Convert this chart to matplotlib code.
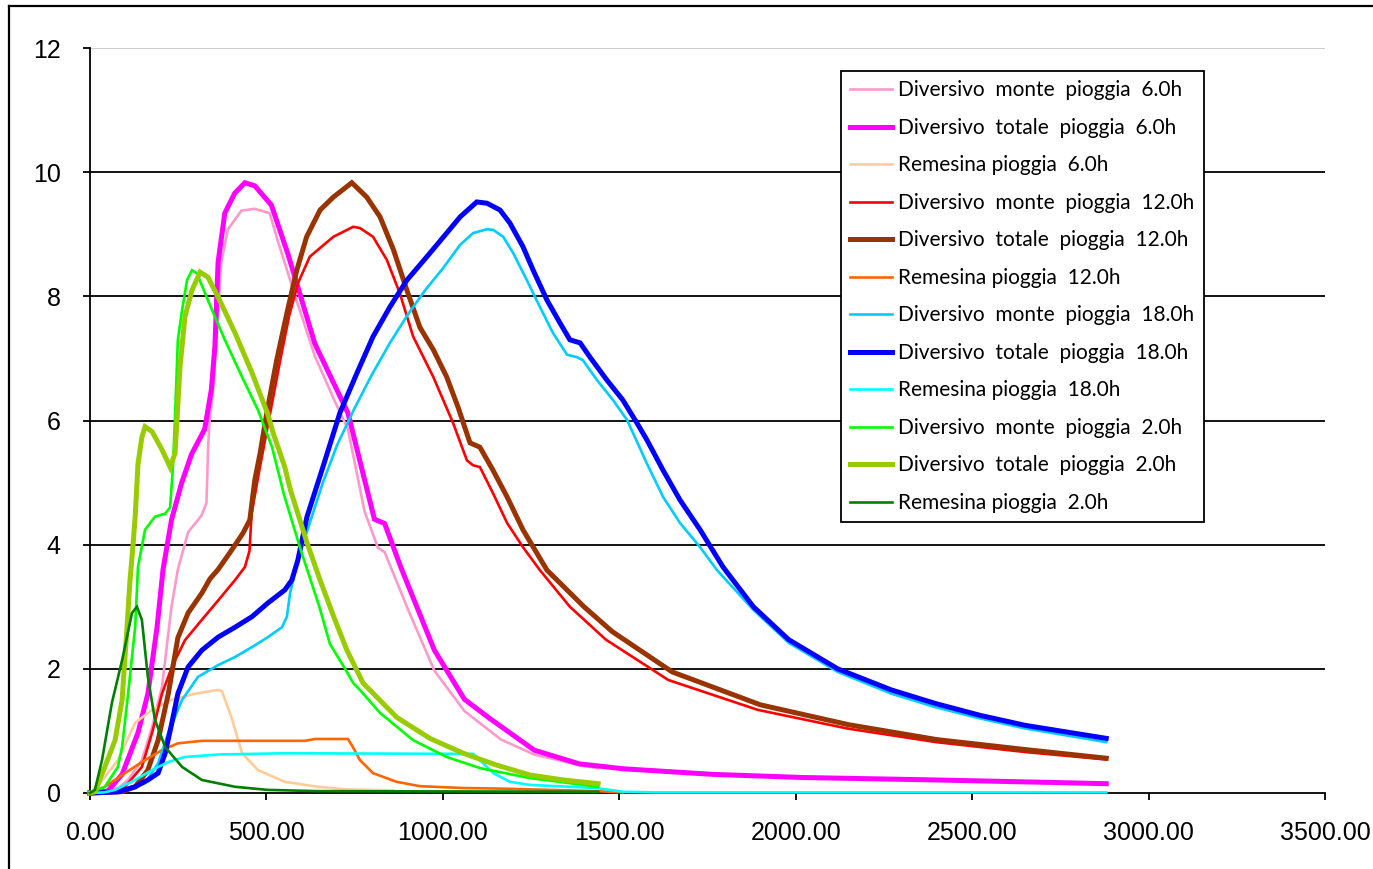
import matplotlib
matplotlib.use("Agg")
import matplotlib.pyplot as plt
from matplotlib.lines import Line2D
import numpy as np

# ---------------- data (time [min], discharge) ----------------
labels = ["Diversivo  monte  pioggia  6.0h", "Diversivo  totale  pioggia  6.0h", "Remesina pioggia  6.0h",
          "Diversivo  monte  pioggia  12.0h", "Diversivo  totale  pioggia  12.0h", "Remesina pioggia  12.0h",
          "Diversivo  monte  pioggia  18.0h", "Diversivo  totale  pioggia  18.0h", "Remesina pioggia  18.0h",
          "Diversivo  monte  pioggia  2.0h", "Diversivo  totale  pioggia  2.0h", "Remesina pioggia  2.0h"]

monte6_t = [0, 40, 80, 108, 147, 176, 204, 231, 249, 278, 316, 330, 335, 339, 349, 363, 372, 391, 429, 467,
            509, 533, 580, 637, 693, 731, 778, 816, 835, 901, 976, 1061, 1165, 1259, 1386, 1440]
monte6_q = [0, 0.02, 0.08, 0.21, 0.53, 1.06, 1.71, 3.0, 3.6, 4.2, 4.47, 4.67, 5.6, 6.0, 6.5, 7.7, 8.55, 9.08,
            9.38, 9.41, 9.34, 8.88, 8.03, 7.04, 6.32, 5.86, 4.54, 3.95, 3.88, 2.96, 1.97, 1.32, 0.86, 0.62,
            0.45, 0.40]

totale6_t = [0, 50, 91, 136, 164, 190, 207, 231, 260, 288, 325, 344, 354, 363, 382, 410, 439, 467, 514, 561,
             637, 731, 806, 835, 882, 976, 1061, 1133, 1259, 1386, 1512, 1765, 2018, 2397, 2726, 2880]
totale6_q = [0, 0.03, 0.3, 0.97, 1.6, 2.67, 3.6, 4.4, 5.0, 5.46, 5.86, 6.5, 7.2, 8.55, 9.34, 9.66, 9.83, 9.78,
             9.47, 8.68, 7.24, 6.12, 4.41, 4.34, 3.62, 2.30, 1.51, 1.20, 0.69, 0.47, 0.39, 0.30, 0.25, 0.21,
             0.17, 0.15]

rem6_t = [0, 14, 79, 128, 176, 232, 298, 363, 374, 403, 431, 476, 552, 646, 723, 860]
rem6_q = [0, 0.05, 0.53, 1.13, 1.34, 1.5, 1.6, 1.66, 1.64, 1.18, 0.64, 0.37, 0.18, 0.10, 0.06, 0.04]

monte12_t = [0, 60, 99, 147, 176, 204, 232, 269, 317, 363, 411, 439, 452, 458, 480, 510, 540, 565, 590, 623,
             690, 746, 765, 802, 841, 878, 916, 973, 1029, 1068, 1085, 1105, 1142, 1182, 1227, 1275, 1360,
             1462, 1639, 1892, 2145, 2397, 2650, 2880]
monte12_q = [0, 0.02, 0.1, 0.42, 0.97, 1.6, 2.03, 2.46, 2.79, 3.1, 3.43, 3.64, 3.9, 4.5, 5.2, 6.1, 7.0, 7.7,
             8.22, 8.64, 8.96, 9.12, 9.1, 8.96, 8.59, 8.05, 7.35, 6.7, 5.96, 5.36, 5.28, 5.25, 4.83, 4.35,
             3.96, 3.59, 3.0, 2.47, 1.82, 1.34, 1.04, 0.82, 0.66, 0.54]

totale12_t = [0, 90, 128, 164, 193, 222, 249, 278, 317, 340, 363, 400, 434, 453, 467, 482, 501, 529, 558, 586,
              614, 652, 690, 742, 784, 822, 860, 898, 935, 973, 1011, 1044, 1058, 1077, 1105, 1142, 1182,
              1227, 1295, 1400, 1480, 1650, 1900, 2150, 2400, 2650, 2880]
totale12_q = [0, 0.02, 0.1, 0.37, 0.85, 1.6, 2.5, 2.9, 3.22, 3.45, 3.6, 3.9, 4.19, 4.4, 5.04, 5.47, 6.12, 6.97,
              7.73, 8.42, 8.96, 9.39, 9.6, 9.83, 9.6, 9.28, 8.75, 8.1, 7.5, 7.14, 6.7, 6.2, 5.96, 5.64, 5.57,
              5.2, 4.77, 4.24, 3.59, 3.0, 2.6, 1.95, 1.42, 1.10, 0.86, 0.70, 0.56]

rem12_t = [0, 42, 99, 156, 204, 249, 317, 459, 609, 638, 731, 745, 765, 802, 869, 935, 1058, 1171, 1436, 1510]
rem12_q = [0, 0.1, 0.32, 0.53, 0.69, 0.8, 0.84, 0.84, 0.84, 0.87, 0.87, 0.74, 0.53, 0.32, 0.18, 0.11, 0.08,
           0.07, 0.03, 0.01]

monte18_t = [0, 99, 156, 193, 222, 261, 306, 363, 411, 459, 504, 544, 558, 567, 589, 620, 660, 700, 750, 800,
             850, 900, 950, 1000, 1049, 1086, 1125, 1143, 1171, 1199, 1238, 1275, 1312, 1352, 1380, 1397,
             1437, 1482, 1522, 1578, 1624, 1672, 1729, 1777, 1880, 1980, 2119, 2271, 2397, 2523, 2650, 2880]
monte18_q = [0, 0.05, 0.16, 0.48, 0.97, 1.5, 1.87, 2.06, 2.19, 2.35, 2.51, 2.67, 2.84, 3.22, 3.75, 4.3, 5.0,
             5.6, 6.2, 6.75, 7.25, 7.7, 8.1, 8.45, 8.83, 9.02, 9.08, 9.07, 8.96, 8.7, 8.26, 7.83, 7.41, 7.06,
             7.02, 6.97, 6.65, 6.33, 6.01, 5.31, 4.77, 4.35, 3.96, 3.59, 2.95, 2.42, 1.95, 1.6, 1.38, 1.2,
             1.04, 0.82]

totale18_t = [0, 79, 128, 164, 193, 213, 232, 249, 278, 317, 363, 411, 459, 504, 552, 572, 589, 615, 660, 708,
              757, 802, 850, 898, 955, 1011, 1049, 1096, 1125, 1162, 1190, 1227, 1256, 1295, 1332, 1360, 1389,
              1417, 1465, 1510, 1550, 1578, 1624, 1672, 1729, 1794, 1880, 1980, 2119, 2271, 2397, 2523, 2650,
              2880]
totale18_q = [0, 0.02, 0.1, 0.21, 0.32, 0.64, 1.13, 1.6, 2.03, 2.3, 2.51, 2.67, 2.84, 3.06, 3.27, 3.43, 3.75,
              4.45, 5.25, 6.12, 6.77, 7.35, 7.83, 8.26, 8.64, 9.02, 9.28, 9.52, 9.5, 9.39, 9.18, 8.8, 8.42,
              7.94, 7.57, 7.3, 7.25, 7.02, 6.65, 6.33, 5.96, 5.69, 5.2, 4.72, 4.24, 3.64, 3.0, 2.47, 2.0, 1.66,
              1.44, 1.25, 1.09, 0.88]

rem18_t = [0, 40, 71, 128, 176, 222, 269, 363, 552, 1086, 1105, 1143, 1190, 1247, 1436, 1510, 1600, 2880]
rem18_q = [0, 0.01, 0.05, 0.21, 0.37, 0.5, 0.58, 0.62, 0.64, 0.63, 0.53, 0.32, 0.18, 0.13, 0.08, 0.02, 0.01,
           0.01]

monte2_t = [0, 42, 79, 91, 108, 128, 136, 156, 184, 213, 227, 235, 241, 249, 261, 275, 289, 303, 334, 382, 431,
            476, 516, 550, 598, 650, 680, 723, 746, 765, 822, 916, 1011, 1106, 1247, 1440]
monte2_q = [0, 0.1, 0.42, 0.74, 1.6, 2.67, 3.64, 4.24, 4.45, 4.5, 4.6, 5.25, 6.06, 7.3, 7.78, 8.26, 8.42, 8.37,
            7.94, 7.3, 6.7, 6.17, 5.57, 4.8, 3.9, 3.0, 2.4, 2.0, 1.77, 1.66, 1.29, 0.85, 0.58, 0.40, 0.24, 0.10]

totale2_t = [0, 14, 42, 71, 91, 105, 113, 122, 128, 136, 147, 156, 176, 204, 227, 241, 247, 255, 269, 289, 312,
             334, 363, 411, 459, 504, 519, 552, 567, 615, 652, 690, 728, 774, 869, 963, 1058, 1152, 1247, 1341,
             1440]
totale2_q = [0, 0.02, 0.42, 0.85, 1.5, 2.67, 3.4, 4.0, 4.45, 5.3, 5.73, 5.9, 5.82, 5.53, 5.25, 5.47, 6.06, 6.86,
             7.67, 8.1, 8.39, 8.31, 7.99, 7.41, 6.77, 6.1, 5.8, 5.25, 4.9, 4.03, 3.43, 2.85, 2.3, 1.77, 1.22,
             0.88, 0.64, 0.45, 0.29, 0.21, 0.15]

rem2_t = [0, 14, 34, 62, 91, 119, 133, 147, 164, 184, 213, 261, 317, 411, 504, 646, 1440]
rem2_q = [0, 0.05, 0.53, 1.45, 2.14, 2.9, 3.0, 2.79, 1.87, 1.18, 0.74, 0.42, 0.21, 0.10, 0.05, 0.03, 0.02]

series_t = [monte6_t, totale6_t, rem6_t, monte12_t, totale12_t, rem12_t,
            monte18_t, totale18_t, rem18_t, monte2_t, totale2_t, rem2_t]
series_q = [monte6_q, totale6_q, rem6_q, monte12_q, totale12_q, rem12_q,
            monte18_q, totale18_q, rem18_q, monte2_q, totale2_q, rem2_q]

colors = ["#FF99CC", "#FF00FF", "#FFCC99", "#FF0000", "#993300", "#FF6600",
          "#00CCFF", "#0000FF", "#00FFFF", "#00FF00", "#99CC00", "#008000"]
widths = [1.9, 3.6, 1.9, 1.9, 3.6, 1.9, 1.9, 3.6, 1.9, 1.9, 3.6, 1.9]

xticks = [0, 500, 1000, 1500, 2000, 2500, 3000, 3500]
yticks = [0, 2, 4, 6, 8, 10, 12]

# ---------------- figure ----------------
W, H = 1373, 869
fig = plt.figure(figsize=(W / 100, H / 100), dpi=100)
ax = fig.add_axes([90 / W, 1 - 793 / H, (1325 - 90) / W, (793 - 48) / H])

for y in yticks[1:-1]:
    ax.axhline(y, color="black", lw=1.3, zorder=1)
ax.axhline(12, color="#C8C8C8", lw=1.3, zorder=1)

handles = []
for t, q, c, w, lab in zip(series_t, series_q, colors, widths, labels):
    ln, = ax.plot(t, q, color=c, lw=w, label=lab, zorder=3, clip_on=False, solid_joinstyle="miter")
    handles.append(ln)

ax.set_xlim(0, 3500)
ax.set_ylim(0, 12)
ax.set_xticks(xticks)
ax.set_xticklabels(["%.2f" % v for v in xticks])
ax.set_yticks(yticks)
ax.set_yticklabels([str(v) for v in yticks])

for s in ["top", "right"]:
    ax.spines[s].set_visible(False)
for s in ["left", "bottom"]:
    ax.spines[s].set_color("black")
    ax.spines[s].set_linewidth(1.3)
    ax.spines[s].set_zorder(2)

ax.tick_params(axis="both", direction="out", length=5, width=1.3, color="black",
               labelsize=18, labelcolor="black")
ax.tick_params(axis="y", pad=16)
ax.tick_params(axis="x", pad=15)
for lbl in ax.get_xticklabels() + ax.get_yticklabels():
    lbl.set_fontfamily(["Liberation Sans", "DejaVu Sans"])

leg = ax.legend(handles=handles, loc="upper left",
                bbox_to_anchor=(841 / W, 1 - 71 / H), bbox_transform=fig.transFigure,
                borderaxespad=0, frameon=True, fancybox=False, framealpha=1,
                edgecolor="black", prop={"family": ["Lato", "DejaVu Sans"], "size": 15},
                handlelength=2.0, handletextpad=0.3, labelspacing=0.84, borderpad=0.45)
leg.get_frame().set_linewidth(1.3)
leg.set_zorder(5)

# outer chart border
fig.add_artist(Line2D([9 / W, 9 / W], [-0.01, 1 - 6 / H], color="black", lw=1.6,
                      transform=fig.transFigure))
fig.add_artist(Line2D([9 / W, 1.01], [1 - 6 / H, 1 - 6 / H], color="black", lw=1.6,
                      transform=fig.transFigure))

fig.savefig("out.png", dpi=100)
